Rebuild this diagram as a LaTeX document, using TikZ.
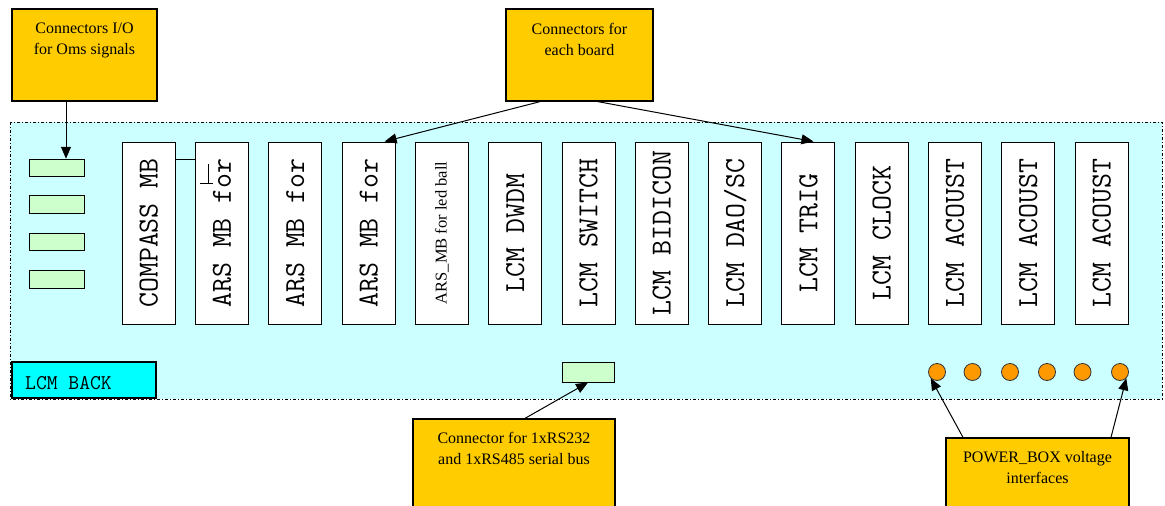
\documentclass[tikz,border=0pt]{standalone}
\usepackage{fontspec}
\newfontfamily\serifl{Liberation Serif}
\usetikzlibrary{arrows.meta}
\definecolor{bgcyan}{HTML}{CCFFFF}
\definecolor{congreen}{HTML}{CCFFCC}
\definecolor{noteyellow}{HTML}{FFCC00}
\definecolor{pworange}{HTML}{FF9900}
\definecolor{backcyan}{HTML}{00FFFF}
\newcommand\smallser{\serifl\fontsize{16.5}{16.5}\selectfont}
\tikzset{
  board/.style={draw=black, line width=1pt, fill=white, minimum width=53pt, minimum height=182pt, inner sep=0pt,
                font=\ttfamily\fontsize{29}{29}\selectfont},
  conn/.style={draw=black, line width=1pt, fill=congreen, inner sep=0pt},
  ybox/.style={draw=black, line width=1.3pt, fill=noteyellow, inner sep=0pt},
  ytext/.style={anchor=north, inner sep=0pt, align=center, font=\serifl\fontsize{16}{21}\selectfont},
  arr/.style={-{Triangle[length=12pt,width=10pt]}, line width=1pt, black},
  pw/.style={circle, draw=black!80, line width=0.8pt, fill=pworange, minimum size=17pt, inner sep=0pt},
}
\begin{document}
\begin{tikzpicture}[x=1pt,y=-1pt]
\useasboundingbox (0,0) rectangle (1165,506);
\clip (0,0) rectangle (1165,506);
\fill[white] (0,0) rectangle (1165,506);

% back panel
\draw[fill=bgcyan, line width=1pt, dash pattern=on 3pt off 2pt on 1pt off 2pt] (10,122) rectangle (1162,399);
\node[draw=black, line width=1.3pt, fill=backcyan, minimum width=144pt, minimum height=36pt, inner sep=0pt] (back) at (84,380) {};
\node[anchor=base west, inner sep=0pt, font=\ttfamily\fontsize{21}{21}\selectfont] (backtext) at (25,389) {LCM BACK};

% boards
\foreach \t [count=\i] in {COMPASS MB, ARS MB for, ARS MB for, ARS MB for, {\smallser ARS\_MB for led ball},
  LCM DWDM, LCM SWITCH, LCM BIDICON, LCM DAO/SC, LCM TRIG, LCM CLOCK, LCM ACOUST, LCM ACOUST, LCM ACOUST}{
  \node[board] (b\i) at ({148.75+73.3*(\i-1)},233) {\rotatebox{90}{\t}};
}
\draw[line width=1pt] ([yshift=-18pt]b1.north east) -- ([yshift=-18pt]b2.north west);
\draw[line width=0.9pt] (200,183) -- (213,183) (208,164) -- (208,183);

% I/O connectors
\node[conn, minimum width=55pt, minimum height=17.5pt] (c1) at (56.5,168) {};
\node[conn, minimum width=55pt, minimum height=17.5pt] (c2) at (56.5,204.5) {};
\node[conn, minimum width=55pt, minimum height=17.5pt] (c3) at (56.5,242) {};
\node[conn, minimum width=55pt, minimum height=17.5pt] (c4) at (56.5,279.5) {};
\node[conn, minimum width=52pt, minimum height=20pt] (cs) at (588,372) {};

% power interfaces
\foreach \x [count=\i] in {937,972.5,1010,1047,1082.5,1120}{
  \node[pw] (p\i) at (\x,372) {};
}

% yellow notes
\node[ybox, minimum width=145pt, minimum height=92pt] (y1) at (84.5,55) {};
\node[ytext] (y1t) at ([yshift=-14.5pt]y1.north) {Connectors I/O\\for Oms signals};
\node[ybox, minimum width=147pt, minimum height=92pt] (y2) at (579.5,55) {};
\node[ytext] (y2t) at ([yshift=-14.5pt]y2.north) {Connectors for\\each board};
\node[ybox, minimum width=202pt, minimum height=90pt] (y3) at (514,464) {};
\node[ytext] (y3t) at ([yshift=-13.5pt]y3.north) {Connector for 1xRS232\\and 1xRS485 serial bus};
\node[ybox, minimum width=183pt, minimum height=72pt] (y4) at (1037.5,474) {};
\node[ytext] (y4t) at ([yshift=-13.5pt]y4.north) {POWER\_BOX voltage\\interfaces};

% connectors (arrows)
\draw[arr] ([xshift=-18.5pt]y1.south) -- ([xshift=9.5pt]c1.north);
\draw[arr] ([xshift=-39.5pt]y2.south) -- ([xshift=-11pt]b4.north east);
\draw[arr] ([xshift=18.5pt]y2.south) -- ([xshift=5pt]b10.north);
\draw[arr] ([xshift=11pt]y3.north) -- (cs.south);
\draw[arr] ([xshift=-74.5pt]y4.north) -- (p1.south west);
\draw[arr] ([xshift=73.5pt]y4.north) -- (p6.south east);
\end{tikzpicture}
\end{document}
